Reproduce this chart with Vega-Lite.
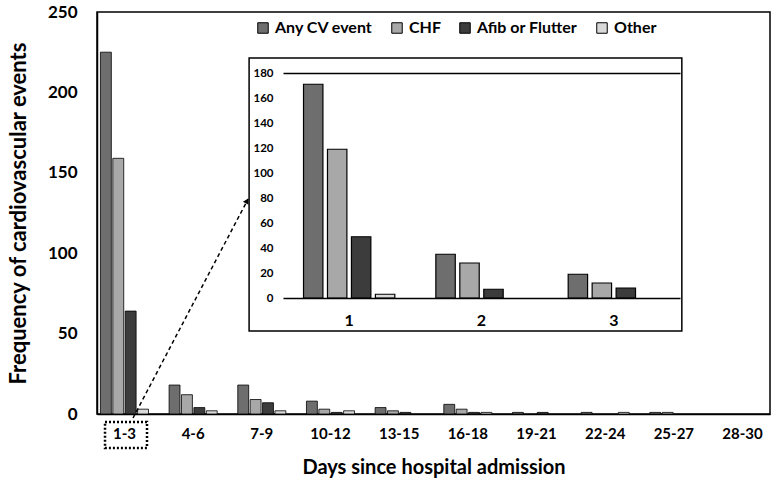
{
  "$schema": "https://vega.github.io/schema/vega-lite/v6.json",
  "width": 673,
  "height": 402,
  "autosize": {"type": "none"},
  "padding": {"left": 97, "top": 12, "right": 8, "bottom": 76},
  "background": "white",
  "config": {
    "font": "Lato",
    "view": {"stroke": "black", "strokeWidth": 1.5},
    "axis": {"labelColor": "black", "titleColor": "black", "domainColor": "black"}
  },
  "resolve": {"scale": {"x": "independent", "y": "independent", "xOffset": "independent"}},
  "layer": [
    {
      "data": {"values": [
        {"days": "1-3", "type": "Any CV event", "count": 225},
        {"days": "1-3", "type": "CHF", "count": 159},
        {"days": "1-3", "type": "Afib or Flutter", "count": 64},
        {"days": "1-3", "type": "Other", "count": 3},
        {"days": "4-6", "type": "Any CV event", "count": 18},
        {"days": "4-6", "type": "CHF", "count": 12},
        {"days": "4-6", "type": "Afib or Flutter", "count": 4},
        {"days": "4-6", "type": "Other", "count": 2},
        {"days": "7-9", "type": "Any CV event", "count": 18},
        {"days": "7-9", "type": "CHF", "count": 9},
        {"days": "7-9", "type": "Afib or Flutter", "count": 7},
        {"days": "7-9", "type": "Other", "count": 2},
        {"days": "10-12", "type": "Any CV event", "count": 8},
        {"days": "10-12", "type": "CHF", "count": 3},
        {"days": "10-12", "type": "Afib or Flutter", "count": 1},
        {"days": "10-12", "type": "Other", "count": 2},
        {"days": "13-15", "type": "Any CV event", "count": 4},
        {"days": "13-15", "type": "CHF", "count": 2},
        {"days": "13-15", "type": "Afib or Flutter", "count": 1},
        {"days": "13-15", "type": "Other", "count": 0},
        {"days": "16-18", "type": "Any CV event", "count": 6},
        {"days": "16-18", "type": "CHF", "count": 3},
        {"days": "16-18", "type": "Afib or Flutter", "count": 1},
        {"days": "16-18", "type": "Other", "count": 1},
        {"days": "19-21", "type": "Any CV event", "count": 1},
        {"days": "19-21", "type": "CHF", "count": 0},
        {"days": "19-21", "type": "Afib or Flutter", "count": 1},
        {"days": "19-21", "type": "Other", "count": 0},
        {"days": "22-24", "type": "Any CV event", "count": 1},
        {"days": "22-24", "type": "CHF", "count": 0},
        {"days": "22-24", "type": "Afib or Flutter", "count": 0},
        {"days": "22-24", "type": "Other", "count": 1},
        {"days": "25-27", "type": "Any CV event", "count": 1},
        {"days": "25-27", "type": "CHF", "count": 1},
        {"days": "25-27", "type": "Afib or Flutter", "count": 0},
        {"days": "25-27", "type": "Other", "count": 0},
        {"days": "28-30", "type": "Any CV event", "count": 0},
        {"days": "28-30", "type": "CHF", "count": 0},
        {"days": "28-30", "type": "Afib or Flutter", "count": 0},
        {"days": "28-30", "type": "Other", "count": 0}
      ]},
      "layer": [
        {
          "transform": [{"filter": "datum.count > 0"}],
          "mark": {"type": "bar", "stroke": "black", "strokeWidth": 0.8},
          "encoding": {
            "x": {
              "field": "days", "type": "nominal",
              "sort": ["1-3", "4-6", "7-9", "10-12", "13-15", "16-18", "19-21", "22-24", "25-27", "28-30"],
              "scale": {"domain": ["1-3", "4-6", "7-9", "10-12", "13-15", "16-18", "19-21", "22-24", "25-27", "28-30"], "paddingInner": 0.3, "paddingOuter": 0.05},
              "axis": {"title": "Days since hospital admission", "labelAngle": 0, "labelFontSize": 15, "labelFontWeight": "bold", "labelPadding": 12, "ticks": false, "domainWidth": 1.5, "titleFontSize": 20, "titleFontWeight": "bold", "titlePadding": 16}
            },
            "xOffset": {"field": "type", "sort": ["Any CV event", "CHF", "Afib or Flutter", "Other"], "scale": {"domain": ["Any CV event", "CHF", "Afib or Flutter", "Other"], "paddingInner": 0.12}},
            "y": {
              "field": "count", "type": "quantitative",
              "scale": {"domain": [0, 250], "nice": false},
              "axis": {"values": [0, 50, 100, 150, 200, 250], "grid": false, "ticks": false, "labelFontSize": 17, "labelFontWeight": "bold", "labelPadding": 20, "title": "Frequency of cardiovascular events", "titleFontSize": 22, "titleFontWeight": "bold", "titlePadding": 17, "domainWidth": 1.5}
            },
            "fill": {
              "field": "type", "type": "nominal",
              "scale": {"domain": ["Any CV event", "CHF", "Afib or Flutter", "Other"], "range": ["#6e6e6e", "#a8a8a8", "#3c3c3c", "#d9d9d9"]},
              "legend": {"orient": "none", "legendX": 158, "legendY": 8, "direction": "horizontal", "title": null, "labelFontSize": 16, "labelFontWeight": "bold", "labelColor": "black", "symbolType": "square", "symbolSize": 110, "symbolStrokeColor": "black", "symbolStrokeWidth": 1, "columnPadding": 16, "labelOffset": 4}
            }
          }
        }
      ]
    },
    {
      "data": {"values": [{}]},
      "layer": [
        {
          "mark": {"type": "rect", "fill": "white", "stroke": "black", "strokeWidth": 1.5},
          "encoding": {
            "x": {"datum": 1.76, "type": "quantitative", "scale": {"domain": [-0.5, 9.5], "nice": false, "zero": false}, "axis": null},
            "x2": {"datum": 8.19},
            "y": {"datum": 221.4, "type": "quantitative", "scale": {"domain": [0, 250], "nice": false}, "axis": null},
            "y2": {"datum": 51.6}
          }
        },
        {
          "mark": {"type": "rule", "strokeDash": [4, 3], "strokeWidth": 1.5, "color": "black"},
          "encoding": {
            "x": {"datum": 0.035, "type": "quantitative"},
            "y": {"datum": -2.5, "type": "quantitative"},
            "x2": {"datum": 1.745},
            "y2": {"datum": 133.7}
          }
        },
        {
          "mark": {"type": "point", "shape": "triangle-up", "angle": 28, "filled": true, "color": "black", "size": 40, "opacity": 1},
          "encoding": {
            "x": {"datum": 1.729, "type": "quantitative"},
            "y": {"datum": 132.5, "type": "quantitative"}
          }
        },
        {
          "mark": {"type": "rect", "fillOpacity": 0, "stroke": "black", "strokeDash": [2, 2], "strokeWidth": 2.5},
          "encoding": {
            "x": {"datum": -0.381, "type": "quantitative"},
            "x2": {"datum": 0.243},
            "y": {"datum": -5.0, "type": "quantitative"},
            "y2": {"datum": -21.1}
          }
        }
      ]
    },
    {
      "data": {"values": [
        {"day": "1", "type": "Any CV event", "n": 171},
        {"day": "1", "type": "CHF", "n": 119},
        {"day": "1", "type": "Afib or Flutter", "n": 49},
        {"day": "1", "type": "Other", "n": 3},
        {"day": "2", "type": "Any CV event", "n": 35},
        {"day": "2", "type": "CHF", "n": 28},
        {"day": "2", "type": "Afib or Flutter", "n": 7},
        {"day": "2", "type": "Other", "n": 0},
        {"day": "3", "type": "Any CV event", "n": 19},
        {"day": "3", "type": "CHF", "n": 12},
        {"day": "3", "type": "Afib or Flutter", "n": 8},
        {"day": "3", "type": "Other", "n": 0}
      ]},
      "transform": [{"filter": "datum.n > 0"}],
      "mark": {"type": "bar", "stroke": "black", "strokeWidth": 1.2},
      "encoding": {
        "x": {
          "field": "day", "type": "nominal",
          "scale": {"domain": ["1", "2", "3"], "range": [186, 583], "paddingInner": 0.31, "paddingOuter": 0.155},
          "axis": {"orient": "bottom", "offset": -116, "title": null, "labelAngle": 0, "labelFontSize": 16, "labelFontWeight": "bold", "labelPadding": 14, "ticks": false, "domainWidth": 1.5, "zindex": 2}
        },
        "xOffset": {"field": "type", "sort": ["Any CV event", "CHF", "Afib or Flutter", "Other"], "scale": {"domain": ["Any CV event", "CHF", "Afib or Flutter", "Other"], "paddingInner": 0.19}},
        "y": {
          "field": "n", "type": "quantitative",
          "scale": {"domain": [0, 180], "range": [286, 61], "nice": false},
          "axis": {"orient": "left", "offset": -186, "title": null, "values": [0, 20, 40, 60, 80, 100, 120, 140, 160, 180], "labelFontSize": 11.5, "labelFontWeight": "bold", "labelPadding": 10, "ticks": false, "domain": false, "grid": true, "gridColor": "black", "gridWidth": 1.5, "gridOpacity": {"condition": {"test": "datum.value == 180", "value": 1}, "value": 0}, "zindex": 2}
        },
        "fill": {"field": "type", "type": "nominal", "legend": null}
      }
    }
  ]
}
